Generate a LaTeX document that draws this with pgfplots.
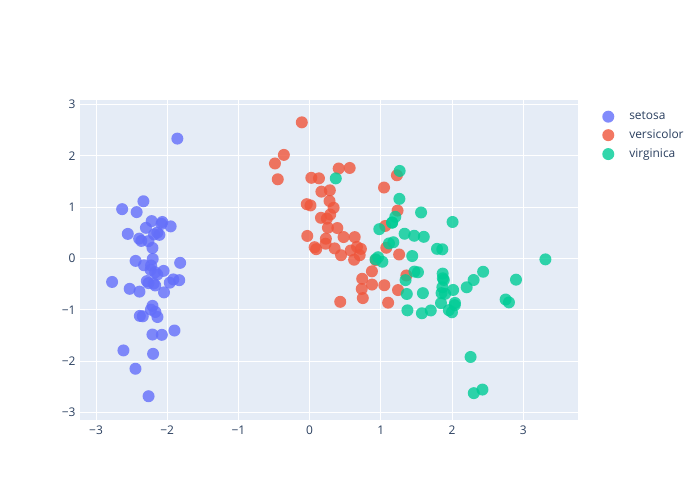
\documentclass[border=0pt]{standalone}
\usepackage{fontspec}
\setmainfont{Open Sans}
\usepackage{pgfplots}
\pgfplotsset{compat=1.18}
\definecolor{plotbg}{HTML}{E5ECF6}
\definecolor{txt}{HTML}{2A3F5F}
\definecolor{cA}{HTML}{636EFA}
\definecolor{cB}{HTML}{EF553B}
\definecolor{cC}{HTML}{00CC96}
\begin{document}
\begin{tikzpicture}
\path[use as bounding box] (0,0) rectangle (700bp,500bp);
\begin{axis}[
  at={(80bp,80bp)}, anchor=south west,
  scale only axis, width=497.7bp, height=320bp,
  xmin=-3.225, xmax=3.764, ymin=-3.15, ymax=3.09,
  axis background/.style={fill=plotbg},
  axis line style={draw=none},
  major tick length=0pt,
  grid=major, major grid style={white, line width=1bp},
  xtick={-3,-2,-1,0,1,2,3}, ytick={-3,-2,-1,0,1,2,3},
  xticklabels={−3,−2,−1,0,1,2,3},
  yticklabels={−3,−2,−1,0,1,2,3},
  tick label style={font=\fontsize{12}{14}\selectfont, text=txt},
  xticklabel style={yshift=-2bp},
  yticklabel style={xshift=-1bp},
  clip=false,
  legend style={draw=none, fill=none, at={(1.043,0.9756)}, anchor=north west,
    font=\fontsize{12}{14}\selectfont, text=txt, row sep=4.5bp,
    nodes={inner sep=2bp}},
  legend cell align=left,
  legend image code/.code={\path[draw=none,fill=none] (0bp,0bp) -- (25bp,0bp); \draw[#1, only marks] plot coordinates {(6bp,0bp)};},
  every axis plot/.append style={only marks, mark=*, mark size=6bp, mark options={draw opacity=0, fill opacity=0.8}},
]
\addplot[color=cA] coordinates {
(-2.264703,-0.480027) (-2.080961,0.674134) (-2.364229,0.341908) (-2.299384,0.597395)
(-2.389842,-0.646835) (-2.075631,-1.489178) (-2.444029,-0.047644) (-2.232847,-0.223148)
(-2.334640,1.115328) (-2.184328,0.469014) (-2.166310,-1.043691) (-2.326131,-0.133078)
(-2.218451,0.728676) (-2.633101,0.961507) (-2.198741,-1.860057) (-2.262215,-2.686284)
(-2.207588,-1.483609) (-2.190350,-0.488838) (-1.898572,-1.405019) (-2.343369,-1.127849)
(-1.914323,-0.408856) (-2.207013,-0.924121) (-2.774345,-0.458344) (-1.818670,-0.085559)
(-2.227163,-0.137254) (-1.951846,0.625619) (-2.051151,-0.242164) (-2.168577,-0.527150)
(-2.139563,-0.313218) (-2.265261,0.337732) (-2.140122,0.504541) (-1.831595,-0.423695)
(-2.614948,-1.793576) (-2.446177,-2.150728) (-2.109975,0.460202) (-2.207809,0.206107)
(-2.045146,-0.661558) (-2.527332,-0.592293) (-2.429633,0.904180) (-2.169711,-0.268879)
(-2.286475,-0.441715) (-1.858122,2.337415) (-2.553638,0.479101) (-1.964448,-0.472327)
(-2.137059,-1.142229) (-2.069744,0.711053) (-2.384733,-1.120430) (-2.394376,0.386247)
(-2.229447,-0.997960) (-2.203833,-0.009216)
};
\addlegendentry{setosa}
\addplot[color=cB] coordinates {
(1.101781,-0.862972) (0.731337,-0.594615) (1.240979,-0.616298) (0.407483,1.754404)
(1.075475,0.208421) (0.388687,0.593284) (0.746530,-0.773019) (-0.487323,1.852429)
(0.927902,-0.032226) (0.011426,1.034018) (-0.110196,2.654073) (0.440693,0.063295)
(0.562108,1.764724) (0.719562,0.186225) (-0.033355,0.439003) (0.875407,-0.509064)
(0.350252,0.196312) (0.158810,0.792096) (1.225094,1.622244) (0.164918,1.302609)
(0.737683,-0.396572) (0.476287,0.417320) (1.234178,0.933326) (0.632858,0.416388)
(0.702661,0.063412) (0.874274,-0.250793) (1.256509,0.077256) (1.358405,-0.331312)
(0.664800,0.225928) (-0.040259,1.058719) (0.130795,1.562272) (0.023453,1.572476)
(0.241538,0.777256) (1.061095,0.633843) (0.223979,0.287774) (0.429139,-0.845582)
(1.048728,-0.522052) (1.044531,1.382989) (0.069588,0.219503) (0.283477,1.329325)
(0.279078,1.120029) (0.624570,-0.024923) (0.336530,0.988404) (-0.362183,2.019238)
(0.288586,0.855730) (0.091361,0.181192) (0.227717,0.384920) (0.576388,0.154874)
(-0.447667,1.543792) (0.256731,0.598852)
};
\addlegendentry{versicolor}
\addplot[color=cC] coordinates {
(1.844569,-0.870421) (1.157882,0.698870) (2.205267,-0.562010) (1.440151,0.046988)
(1.867812,-0.295045) (2.751873,-0.800409) (0.367018,1.561503) (2.302439,-0.420066)
(2.006686,0.711439) (2.259777,-1.921010) (1.364175,-0.692756) (1.602679,0.421700)
(1.883901,-0.419250) (1.260115,1.162260) (1.467645,0.442272) (1.590077,-0.676245)
(1.471431,-0.255622) (2.426329,-2.556661) (3.310696,-0.017781) (1.263767,1.706745)
(2.037716,-0.910467) (0.977981,0.571764) (2.897651,-0.413641) (1.333232,0.481811)
(1.700734,-1.013922) (1.954327,-1.007778) (1.175104,0.316394) (1.020951,-0.064346)
(1.788350,0.187361) (1.863648,-0.562291) (2.435954,-0.259284) (2.304928,-2.626323)
(1.862703,0.178549) (1.114148,0.292923) (1.202473,0.811315) (2.798770,-0.856803)
(1.576256,-1.068581) (1.346292,-0.422431) (0.924825,-0.017223) (1.852045,-0.676128)
(2.014810,-0.613886) (1.901784,-0.689575) (1.157882,0.698870) (2.040558,-0.867521)
(1.998147,-1.049169) (1.870503,-0.386966) (1.564580,0.896687) (1.521170,-0.269069)
(1.372788,-1.011254) (0.960656,0.024332)
};
\addlegendentry{virginica}
\end{axis}
\end{tikzpicture}
\end{document}
